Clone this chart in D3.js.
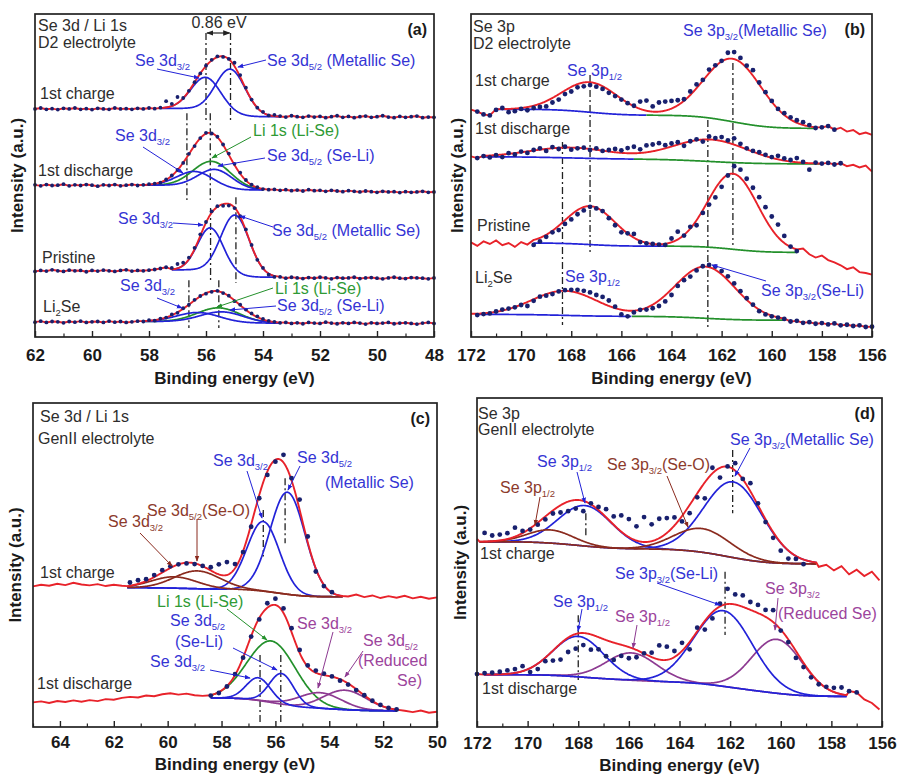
<!DOCTYPE html>
<html>
<head>
<meta charset="utf-8">
<script src="https://cdn.jsdelivr.net/npm/d3@7"></script>
<style>
body { margin: 0; background: #fff; }
svg text { font-family: "Liberation Sans", Arial, sans-serif; }
</style>
</head>
<body>
<div id="chart"></div>
<script>
// ---------- data ----------
// intensities are in arbitrary units, 0-100 per panel (stacked offsets included)

// (a) Se 3d / Li 1s, D2 electrolyte: points every 0.2 eV from 62 eV down to 48 eV
var aStart = 62, aStep = 0.2;
var aCharge = [70.6,70.9,70.5,70.7,70.4,70.8,70.6,70.9,70.5,70.7,
  70.4,70.8,70.6,70.5,70.9,70.6,70.7,70.5,70.8,70.6,
  70.9,70.7,71.0,73.0,72.2,74.3,74.0,76.2,78.9,81.6,
  84.0,85.8,86.9,86.7,86.1,84.9,81.1,77.2,73.5,71.0,
  69.7,68.6,68.8,68.4,68.1,68.5,68.2,68.0,68.4,68.1,
  68.3,67.9,68.2,68.5,68.0,68.3,67.9,68.2,68.4,68.0,
  68.2,68.5,68.1,67.9,68.3,68.0,68.2,68.4,67.9,68.1,
  68.0];
var aDischarge = [47.1,46.8,47.2,46.9,47.0,47.3,46.8,47.1,46.9,47.2,
  47.0,46.7,47.1,46.9,47.2,46.8,47.0,47.2,46.9,47.1,
  47.3,47.5,47.8,48.8,50.0,51.7,53.9,56.7,59.1,61.6,
  63.2,63.0,62.0,59.6,56.8,53.6,50.9,48.6,47.2,46.4,
  45.8,45.6,45.7,45.4,45.6,45.3,45.5,45.2,45.6,45.3,
  45.4,45.1,45.4,45.2,45.0,45.3,45.1,44.9,45.2,45.0,
  44.8,45.1,44.9,45.0,44.7,45.0,44.8,44.9,45.1,44.8,
  44.9];
var aPristine = [20.3,20.6,20.4,20.8,20.5,20.3,20.7,20.5,20.6,20.2,
  20.6,20.4,20.7,20.5,20.3,20.6,20.8,20.4,20.6,20.5,
  20.7,20.9,21.2,21.6,21.4,22.6,23.0,24.6,27.6,31.8,
  35.6,38.9,40.5,40.6,40.7,39.9,37.4,33.3,28.5,23.9,
  21.4,19.3,18.6,18.6,18.2,18.5,18.3,18.1,18.4,18.2,
  18.5,18.3,18.0,18.4,18.2,18.3,18.5,18.1,18.3,18.4,
  18.2,18.0,18.3,18.5,18.2,18.1,18.4,18.3,18.2,18.0,
  18.3];
var aLi2Se = [4.6,4.9,4.5,4.8,4.7,4.4,4.8,4.6,4.9,4.5,
  4.7,4.8,4.5,4.9,4.6,4.8,4.5,4.7,4.9,4.8,
  5.2,5.1,5.7,6.0,7.0,7.5,8.9,10.0,11.5,12.7,
  13.4,14.0,14.3,13.6,12.8,11.1,10.0,8.5,7.3,6.4,
  5.6,5.0,4.7,4.4,4.5,4.2,4.4,4.1,4.5,4.3,
  4.2,4.6,4.3,4.1,4.4,4.2,4.5,4.3,4.0,4.4,
  4.2,4.3,4.5,4.1,4.3,4.4,4.2,4.0,4.3,4.5,
  4.2];
// fitted components: [centre eV, height, sigma eV, species]
var aChargePeaks = [[56.0,10.2,0.52,"se"],[55.14,13.9,0.52,"se"]];
var aDischargePeaks = [[55.78,8.2,0.66,"li"],[56.37,4.6,0.63,"se"],[55.67,5.8,0.6,"se"]];
var aPristinePeaks = [[55.84,13.5,0.45,"se"],[54.98,18.5,0.5,"se"]];
var aLi2SePeaks = [[55.55,4.5,0.75,"li"],[56.27,2.9,0.75,"se"],[55.43,3.3,0.75,"se"]];

// (b) Se 3p, D2 electrolyte: points every 0.25 eV from 172 eV down to 156 eV
var bStart = 172, bStep = 0.25;
var bCharge = [70.4,69.8,68.9,68.6,70.3,70.9,69.6,69.9,70.6,70.2,
  70.9,71.2,71.4,72.6,73.5,75.2,76.0,77.3,77.6,78.0,
  77.5,76.8,75.6,74.6,73.5,72.4,71.6,72.9,73.2,71.4,
  72.6,72.9,73.1,73.3,73.6,76.0,78.2,79.6,82.8,84.1,
  85.5,88.0,88.2,86.4,84.0,82.6,78.8,75.8,73.1,70.6,
  69.3,68.0,67.1,66.5,65.6,64.7,64.9,65.3,64.2,64.8,
  63.6,64.1,62.8,63.3,62.6];
var bDischarge = [55.9,55.4,56.0,55.6,56.3,55.7,56.9,56.5,57.4,57.0,
  57.9,58.4,57.6,58.8,58.2,58.9,58.0,58.4,58.6,57.9,
  58.4,57.6,57.9,58.2,57.8,58.5,58.9,58.1,59.3,59.6,
  60.0,59.4,59.9,60.3,59.2,60.6,61.2,60.5,62.1,61.6,
  61.9,60.9,61.5,59.8,58.4,57.6,57.2,56.4,55.7,56.1,
  55.3,54.8,55.4,54.2,51.8,54.0,53.7,53.9,53.4,53.8,
  52.9,53.3,52.5,53.1,51.2];
var bPristine = [29.3,28.2,29.6,28.8,29.9,28.4,29.1,27.9,29.4,28.6,
  28.5,29.6,31.0,32.4,33.1,35.0,36.4,38.0,39.2,40.3,
  39.8,39.0,36.8,34.6,32.4,32.1,31.9,29.4,29.0,28.8,
  28.6,28.5,30.5,32.6,31.4,34.1,34.6,38.4,41.0,43.2,
  46.5,50.0,52.9,51.8,49.0,46.2,43.3,40.2,37.3,34.8,
  31.3,28.0,26.6,27.4,25.6,24.6,25.2,23.8,23.1,22.2,
  21.0,21.6,20.1,19.8,19.3];
var bLi2Se = [7.2,6.8,7.1,7.3,7.9,8.5,8.8,9.2,9.9,9.6,
  11.2,12.5,12.8,13.3,14.1,14.5,14.6,14.6,14.3,13.8,
  13.0,12.4,11.3,9.4,7.0,6.4,7.6,8.4,8.5,8.9,
  9.6,11.0,13.0,15.8,17.6,18.7,20.6,21.9,22.3,21.8,
  20.4,18.8,16.6,14.2,12.0,10.0,8.0,7.0,6.4,6.0,
  5.6,4.8,5.0,4.4,4.6,4.1,4.3,3.9,4.2,3.6,
  3.8,3.4,3.6,3.1,3.2];
var bChargePeaks = [[167.25,9.3,1.1,"se"],[161.55,19.5,1.15,"se"]];
var bDischargePeaks = [[168.0,3.2,1.6,"se"],[162.45,6.8,1.5,"se"]];
var bPristinePeaks = [[167.25,11.9,1.0,"se"],[161.55,23.4,1.0,"se"]];
var bLi2SePeaks = [[168.25,7.6,1.3,"se"],[162.65,16.0,1.2,"se"]];

// (c) Se 3d / Li 1s, GenII electrolyte: points every 0.3 eV from 65 eV down to 50 eV
var cStart = 65, cStep = 0.3;
var cCharge = [43.4,43.9,43.6,44.2,43.8,44.5,44.0,43.7,44.1,43.5,
  43.9,43.6,44.6,45.3,45.6,46.9,48.4,49.6,50.2,50.5,
  50.3,49.7,49.3,50.2,50.9,50.3,54.0,61.8,70.6,77.8,
  81.9,84.0,76.8,70.2,58.8,48.0,43.5,41.6,41.0,40.3,
  40.9,40.1,40.6,39.8,40.4,39.9,40.5,39.7,40.2,39.6,
  40.0];
var cDischarge = [7.6,7.9,7.4,8.0,7.7,8.2,7.8,8.3,8.0,8.6,
  8.4,9.0,9.3,9.1,9.7,9.5,10.1,10.4,10.0,10.3,
  9.8,9.6,9.7,10.5,12.5,16.3,21.4,27.9,33.2,38.2,
  39.6,36.6,30.5,23.8,19.0,17.4,16.5,15.6,14.3,13.1,
  11.4,9.8,8.1,6.8,5.9,5.4,5.0,4.6,5.1,4.4,
  4.7];
var cChargePeaks = [[56.45,21.5,0.6,"se"],[55.55,31.5,0.65,"se"],[59.75,3.5,0.85,"seo"],[58.9,5.5,0.85,"seo"]];
var cDischargePeaks = [[56.14,19.0,0.9,"li"],[54.34,4.8,0.8,"reduced"],[53.41,6.0,0.8,"reduced"],[56.63,7.0,0.45,"se"],[55.77,9.5,0.45,"se"]];

// (d) Se 3p, GenII electrolyte: points every 0.3 eV from 172 eV down to 156.1 eV
var dStart = 172, dStep = 0.3;
var dCharge = [57.2,59.0,58.2,58.5,58.9,60.6,59.6,60.0,61.5,63.1,
  64.9,65.2,65.6,66.4,65.6,68.0,66.9,66.2,64.0,64.3,
  63.2,61.0,63.8,61.6,63.3,63.5,63.7,62.5,65.0,69.8,
  69.5,78.8,75.8,79.2,80.2,75.4,74.1,68.0,62.3,57.5,
  53.6,51.2,51.1,49.5,49.9,48.7,49.3,47.6,48.9,46.4,
  47.8,45.9,47.2,44.6];
var dDischarge = [16.1,16.4,16.5,16.8,17.2,17.6,18.5,16.7,17.6,20.0,
  20.2,20.5,22.8,23.8,24.9,23.5,23.6,21.5,20.4,21.6,
  20.9,21.2,22.4,22.6,24.8,24.4,23.1,25.6,23.6,30.2,
  29.6,33.0,37.5,42.0,40.3,40.0,38.0,37.1,35.6,35.5,
  29.3,25.8,21.0,18.2,15.1,13.0,12.2,11.9,12.0,10.9,
  10.5,8.4,7.3,5.3];
var dChargePeaks = [[167.73,12.3,1.06,"se"],[161.87,23.0,1.15,"se"],[169.1,4.0,0.9,"seo"],[163.1,7.2,1.1,"seo"]];
var dDischargePeaks = [[165.9,8.3,1.0,"reduced"],[160.15,16.4,1.0,"reduced"],[168.0,12.3,1.0,"se"],[162.27,23.0,1.15,"se"]];

// tick labels
var aTicks = [62,60,58,56,54,52,50,48];
var bTicks = [172,170,168,166,164,162,160,158,156];
var cTicks = [64,62,60,58,56,54,52,50];
var dTicks = [172,170,168,166,164,162,160,158,156];

// marker lines [energy, top, bottom]
var aMarks = [[56.0,94.1,66.3],[55.14,94.1,66.3],[56.67,69.3,42.4],[55.85,69.3,42.4],[55.84,39.9,16.7],[54.95,43.3,16.7],[56.6,17.6,2.8],[55.55,17.6,2.8]];
var bMarks = [[167.25,81.1,26.3],[161.55,84.8,28.5],[168.35,60.4,3.7],[162.55,67.2,3.1]];
var cMarks = [[56.45,67.0,52.6],[55.64,76.8,56.7],[56.57,22.2,1.2],[55.8,22.2,1.2]];
var dMarks = [[167.7,65.0,57.4],[161.9,84.2,65.0],[168.0,34.0,14.3],[162.2,47.2,28.0]];

// ---------- styling ----------
var W = 897, H = 776;
var lineColour = {se:"#2222d8", li:"#23902b", seo:"#8a2a1e", reduced:"#8d3a91"};
var textColour = {se:"#3434d4", li:"#2f9a35", seo:"#8c3a2c", reduced:"#9c449c", dark:"#2d2d2d"};
var fitColour = "#e8222a", dotColour = "#18206e";

var svg = d3.select("#chart").append("svg").attr("width", W).attr("height", H);
var defs = svg.append("defs");
Object.keys(lineColour).concat(["dark"]).forEach(function(k){
  defs.append("marker").attr("id","arr-"+k).attr("viewBox","0 0 8 8")
    .attr("refX",7).attr("refY",4).attr("markerWidth",6).attr("markerHeight",6)
    .attr("orient","auto-start-reverse")
    .append("path").attr("d","M0,1 L8,4 L0,7 Z")
    .attr("fill", k==="dark" ? "#222" : lineColour[k]);
});

function erf(x){
  var s = x < 0 ? -1 : 1; x = Math.abs(x);
  var t = 1/(1+0.3275911*x);
  var y = 1-(((((1.061405429*t-1.453152027)*t)+1.421413741)*t-0.284496736)*t+0.254829592)*t*Math.exp(-x*x);
  return s*y;
}
function cdf(z){ return 0.5*(1+erf(z/Math.SQRT2)); }
function gauss(E,p){ var z=(E-p[0])/p[2]; return p[1]*Math.exp(-0.5*z*z); }
function shirley(E,s){
  var tot=0, acc=0;
  s.peaks.forEach(function(p){ var a=p[1]*p[2]; tot+=a; acc+=a*cdf((E-p[0])/p[2]); });
  return s.bg[1]+(s.bg[0]-s.bg[1])*acc/tot;
}

function addText(g, t){
  var el = g.append("text").attr("x",t[1]).attr("y",t[2])
    .attr("fill",textColour[t[3]]).attr("font-size",16)
    .attr("text-anchor",t[4]||"start");
  var shifted = false;
  t[0].split(/(_\{[^}]*\})/).forEach(function(part){
    if(!part) return;
    if(part.charAt(0)==="_"){
      el.append("tspan").attr("dy", shifted?0:4).attr("font-size",9.5).text(part.slice(2,-1));
      shifted = true;
    } else {
      el.append("tspan").attr("dy", shifted?-4:0).text(part);
      shifted = false;
    }
  });
}

var panels = [
  {id:"(a)", x0:35, x1:434, y0:14, y1:337, domain:[62,48], ticks:aTicks, pad:12, titleY:384, ylabX:23, r:1.9,
   marks:aMarks, comps:true,
   spectra:[
    {raw:aCharge, start:aStart, step:aStep, peaks:aChargePeaks, bg:[70.8,68.2], win:[57.6,53.4], dots:[62,48]},
    {raw:aDischarge, start:aStart, step:aStep, peaks:aDischargePeaks, bg:[47.0,45.5], win:[58.4,54.0], dots:[62,48]},
    {raw:aPristine, start:aStart, step:aStep, peaks:aPristinePeaks, bg:[20.8,18.5], win:[57.2,53.6], dots:[62,48]},
    {raw:aLi2Se, start:aStart, step:aStep, peaks:aLi2SePeaks, bg:[4.8,4.3], win:[58.2,53.4], dots:[62,48]}],
   labels:[["Se 3d / Li 1s",38,31,"dark"],["D2 electrolyte",38,48,"dark"],
    ["Se 3d_{3/2}",135,66,"se"],["Se 3d_{5/2} (Metallic Se)",267,66,"se"],["1st charge",40,99,"dark"],
    ["Se 3d_{3/2}",115,141,"se"],["Li 1s (Li-Se)",253,136,"li"],["Se 3d_{5/2} (Se-Li)",267,161,"se"],["1st discharge",38,176,"dark"],
    ["Se 3d_{3/2}",118,224,"se"],["Se 3d_{5/2} (Metallic Se)",272,236,"se"],["Pristine",42,263,"dark"],
    ["Se 3d_{3/2}",120,291,"se"],["Li 1s (Li-Se)",275,294,"li"],["Se 3d_{5/2} (Se-Li)",277,311,"se"],["Li_{2}Se",43,312,"dark"],
    ["0.86 eV",219,28,"dark","middle"]],
   leaders:[[157,69,199,78,"se"],[266,60,238,67,"se"],[143,147,183,173,"se"],[251,137,212,158,"li"],[265,158,218,166,"se"],
    [173,223,203,225,"se"],[273,227,240,216,"se"],[157,298,182,308,"se"],[273,288,217,307,"li"],[276,306,230,310,"se"]]},
  {id:"(b)", x0:471, x1:872, y0:14, y1:337, domain:[172,156], ticks:bTicks, pad:12, titleY:384, ylabX:463, r:2.4,
   marks:bMarks, comps:false,
   spectra:[
    {raw:bCharge, start:bStart, step:bStep, peaks:bChargePeaks, bg:[70.5,64.6], win:[171.0,158.2], split:165.0, dots:[171.75,157.5]},
    {raw:bDischarge, start:bStart, step:bStep, peaks:bDischargePeaks, bg:[55.8,53.6], win:[171.5,158.0], split:165.5, dots:[171.9,157.2]},
    {raw:bPristine, start:bStart, step:bStep, peaks:bPristinePeaks, bg:[29.1,26.2], win:[169.5,159.0], split:164.3, dots:[169.5,159.0]},
    {raw:bLi2Se, start:bStart, step:bStep, peaks:bLi2SePeaks, bg:[7.0,5.2], win:[171.8,159.5], split:165.6, dots:[171.8,156.0]}],
   labels:[["Se 3p",473,32,"dark"],["D2 electrolyte",473,49,"dark"],
    ["Se 3p_{3/2}(Metallic Se)",683,36,"se"],["Se 3p_{1/2}",567,76,"se"],["1st charge",475,86,"dark"],
    ["1st discharge",475,134,"dark"],["Pristine",477,231,"dark"],["Li_{2}Se",475,283,"dark"],
    ["Se 3p_{1/2}",565,282,"se"],["Se 3p_{3/2}(Se-Li)",761,296,"se"]],
   leaders:[[766,281,712,265,"se"]]},
  {id:"(c)", x0:33, x1:437, y0:403, y1:727, domain:[65,50], ticks:cTicks, pad:9, titleY:770, ylabX:21, r:2.4,
   marks:cMarks, comps:true,
   spectra:[
    {raw:cCharge, start:cStart, step:cStep, peaks:cChargePeaks, bg:[43.0,40.2], win:[61.5,53.5], dots:[61.6,53.8]},
    {raw:cDischarge, start:cStart, step:cStep, peaks:cDischargePeaks, bg:[9.0,5.0], win:[58.4,51.5], dots:[58.4,51.3]}],
   labels:[["Se 3d / Li 1s",40,422,"dark"],["GenII electrolyte",38,444,"dark"],
    ["Se 3d_{3/2}",213,466,"se"],["Se 3d_{5/2}",297,463,"se"],["(Metallic Se)",325,488,"se"],
    ["Se 3d_{5/2}(Se-O)",147,516,"seo"],["Se 3d_{3/2}",108,527,"seo"],["1st charge",40,578,"dark"],
    ["Li 1s (Li-Se)",157,607,"li"],["Se 3d_{5/2}",170,626,"se"],["(Se-Li)",175,647,"se"],["Se 3d_{3/2}",150,667,"se"],
    ["1st discharge",37,689,"dark"],["Se 3d_{3/2}",297,629,"reduced"],["Se 3d_{5/2}",363,646,"reduced"],
    ["(Reduced",358,666,"reduced"],["Se)",422,686,"reduced","end"]],
   leaders:[[247,471,262,518,"se"],[300,466,288,490,"se"],[197,519,197,561,"seo"],[140,533,172,566,"seo"],
    [227,609,267,640,"li"],[233,648,277,670,"se"],[210,670,250,678,"se"],[333,632,318,688,"reduced"],[363,651,345,677,"reduced"]]},
  {id:"(d)", x0:477, x1:882, y0:398, y1:727, domain:[172,156], ticks:dTicks, pad:10, titleY:771, ylabX:466, r:2.4,
   marks:dMarks, comps:true,
   spectra:[
    {raw:dCharge, start:dStart, step:dStep, peaks:dChargePeaks, bg:[56.3,49.6], win:[171.9,158.6], dots:[171.9,159.0]},
    {raw:dDischarge, start:dStart, step:dStep, peaks:dDischargePeaks, bg:[15.9,9.3], win:[171.7,157.4], dots:[172.0,157.0]}],
   labels:[["Se 3p",478,419,"dark"],["GenII electrolyte",478,435,"dark"],
    ["Se 3p_{3/2}(Metallic Se)",730,445,"se"],["Se 3p_{1/2}",537,467,"se"],["Se 3p_{3/2}(Se-O)",607,470,"seo"],
    ["Se 3p_{1/2}",500,493,"seo"],["1st charge",480,559,"dark"],["Se 3p_{3/2}(Se-Li)",615,579,"se"],
    ["Se 3p_{1/2}",553,607,"se"],["Se 3p_{1/2}",615,622,"reduced"],["Se 3p_{3/2}",765,594,"reduced"],
    ["(Reduced Se)",778,619,"reduced"],["1st discharge",482,694,"dark"]],
   leaders:[[750,448,735,476,"se"],[577,472,585,503,"se"],[667,476,688,527,"seo"],[540,497,535,525,"seo"],
    [657,583,720,605,"se"],[582,609,578,631,"se"],[637,625,633,648,"reduced"],[778,598,775,630,"reduced"]]}
];

panels.forEach(function(p){
  var g = svg.append("g");
  var x = d3.scaleLinear().domain(p.domain).range([p.x0,p.x1]);
  var y = d3.scaleLinear().domain([0,100]).range([p.y1,p.y0]);
  var line = d3.line().x(function(d){return x(d[0]);}).y(function(d){return y(d[1]);});

  // dash-dot marker lines
  g.selectAll("line.mark").data(p.marks).enter().append("line")
    .attr("x1",function(d){return x(d[0]);}).attr("x2",function(d){return x(d[0]);})
    .attr("y1",function(d){return y(d[1]);}).attr("y2",function(d){return y(d[2]);})
    .attr("stroke","#222").attr("stroke-width",1.3).attr("stroke-dasharray","7,3,2,3");

  p.spectra.forEach(function(s){
    var pts = s.raw.map(function(v,i){ return [s.start - s.step*i, v]; });
    var grid = d3.range(s.win[0], s.win[1], -0.02).concat([s.win[1]]);
    if(p.comps){
      s.peaks.forEach(function(pk){
        g.append("path").attr("d", line(grid.map(function(E){ return [E, shirley(E,s)+gauss(E,pk)]; })))
          .attr("fill","none").attr("stroke",lineColour[pk[3]]).attr("stroke-width",1.7);
      });
    } else {
      var hiSide = grid.filter(function(E){ return E >= s.split; });
      var loSide = grid.filter(function(E){ return E <= s.split; });
      g.append("path").attr("d", line(hiSide.map(function(E){ return [E, shirley(E,s)]; })))
        .attr("fill","none").attr("stroke",lineColour.se).attr("stroke-width",1.7);
      g.append("path").attr("d", line(loSide.map(function(E){ return [E, shirley(E,s)]; })))
        .attr("fill","none").attr("stroke",lineColour.li).attr("stroke-width",1.7);
    }
    var left = pts.filter(function(d){ return d[0] > s.win[0]+1e-6; });
    var right = pts.filter(function(d){ return d[0] < s.win[1]-1e-6; });
    var fit = grid.map(function(E){ return [E, shirley(E,s)+d3.sum(s.peaks,function(pk){return gauss(E,pk);})]; });
    g.append("path").attr("d", line(left.concat(fit,right)))
      .attr("fill","none").attr("stroke",fitColour).attr("stroke-width",1.9);
    g.selectAll(null).data(pts.filter(function(d){ return d[0] <= s.dots[0]+1e-6 && d[0] >= s.dots[1]-1e-6; }))
      .enter().append("circle")
      .attr("cx",function(d){return x(d[0]);}).attr("cy",function(d){return y(d[1]);})
      .attr("r",p.r).attr("fill",dotColour);
  });

  // leader lines
  p.leaders.forEach(function(l){
    g.append("line").attr("x1",l[0]).attr("y1",l[1]).attr("x2",l[2]).attr("y2",l[3])
      .attr("stroke",lineColour[l[4]]).attr("stroke-width",1).attr("marker-end","url(#arr-"+l[4]+")");
  });

  p.labels.forEach(function(t){ addText(g,t); });

  // frame
  g.append("rect").attr("x",p.x0).attr("y",p.y0).attr("width",p.x1-p.x0).attr("height",p.y1-p.y0)
    .attr("fill","none").attr("stroke","#222").attr("stroke-width",1.7);

  // axes
  var minor = d3.range(Math.ceil(Math.min.apply(null,p.domain)), Math.max.apply(null,p.domain)+0.01, 1)
    .filter(function(v){ return p.ticks.indexOf(v) < 0; });
  var ax = g.append("g").attr("transform","translate(0,"+p.y1+")")
    .call(d3.axisBottom(x).tickValues(p.ticks).tickSize(-6).tickPadding(p.pad).tickFormat(d3.format("d")));
  ax.select(".domain").remove();
  ax.selectAll("text").attr("font-size",17).attr("font-weight","bold").attr("fill","#1a1a1a")
    .attr("font-family","Liberation Sans, Arial, sans-serif");
  ax.selectAll("line").attr("stroke","#222").attr("stroke-width",1.4);
  var mx = g.append("g").attr("transform","translate(0,"+p.y1+")")
    .call(d3.axisBottom(x).tickValues(minor).tickSize(-3.5).tickFormat(""));
  mx.select(".domain").remove();
  mx.selectAll("line").attr("stroke","#222").attr("stroke-width",1.2);

  g.append("text").attr("x",(p.x0+p.x1)/2).attr("y",p.titleY).attr("text-anchor","middle")
    .attr("font-size",17).attr("font-weight","bold").attr("fill","#1a1a1a").text("Binding energy (eV)");
  g.append("text").attr("transform","translate("+p.ylabX+","+((p.y0+p.y1)/2)+") rotate(-90)")
    .attr("text-anchor","middle").attr("font-size",17).attr("font-weight","bold").attr("fill","#1a1a1a")
    .text("Intensity (a.u.)");
  g.append("text").attr("x",p.x1-7).attr("y",p.y0+21).attr("text-anchor","end")
    .attr("font-size",16).attr("font-weight","bold").attr("fill","#1a1a1a").text(p.id);
});

// 0.86 eV separation arrow in panel (a)
(function(){
  var p = panels[0];
  var x = d3.scaleLinear().domain(p.domain).range([p.x0,p.x1]);
  svg.append("line").attr("x1",x(56.0)+1).attr("x2",x(55.14)-1).attr("y1",33).attr("y2",33)
    .attr("stroke","#222").attr("stroke-width",1.2)
    .attr("marker-start","url(#arr-dark)").attr("marker-end","url(#arr-dark)");
})();
</script>
</body>
</html>
